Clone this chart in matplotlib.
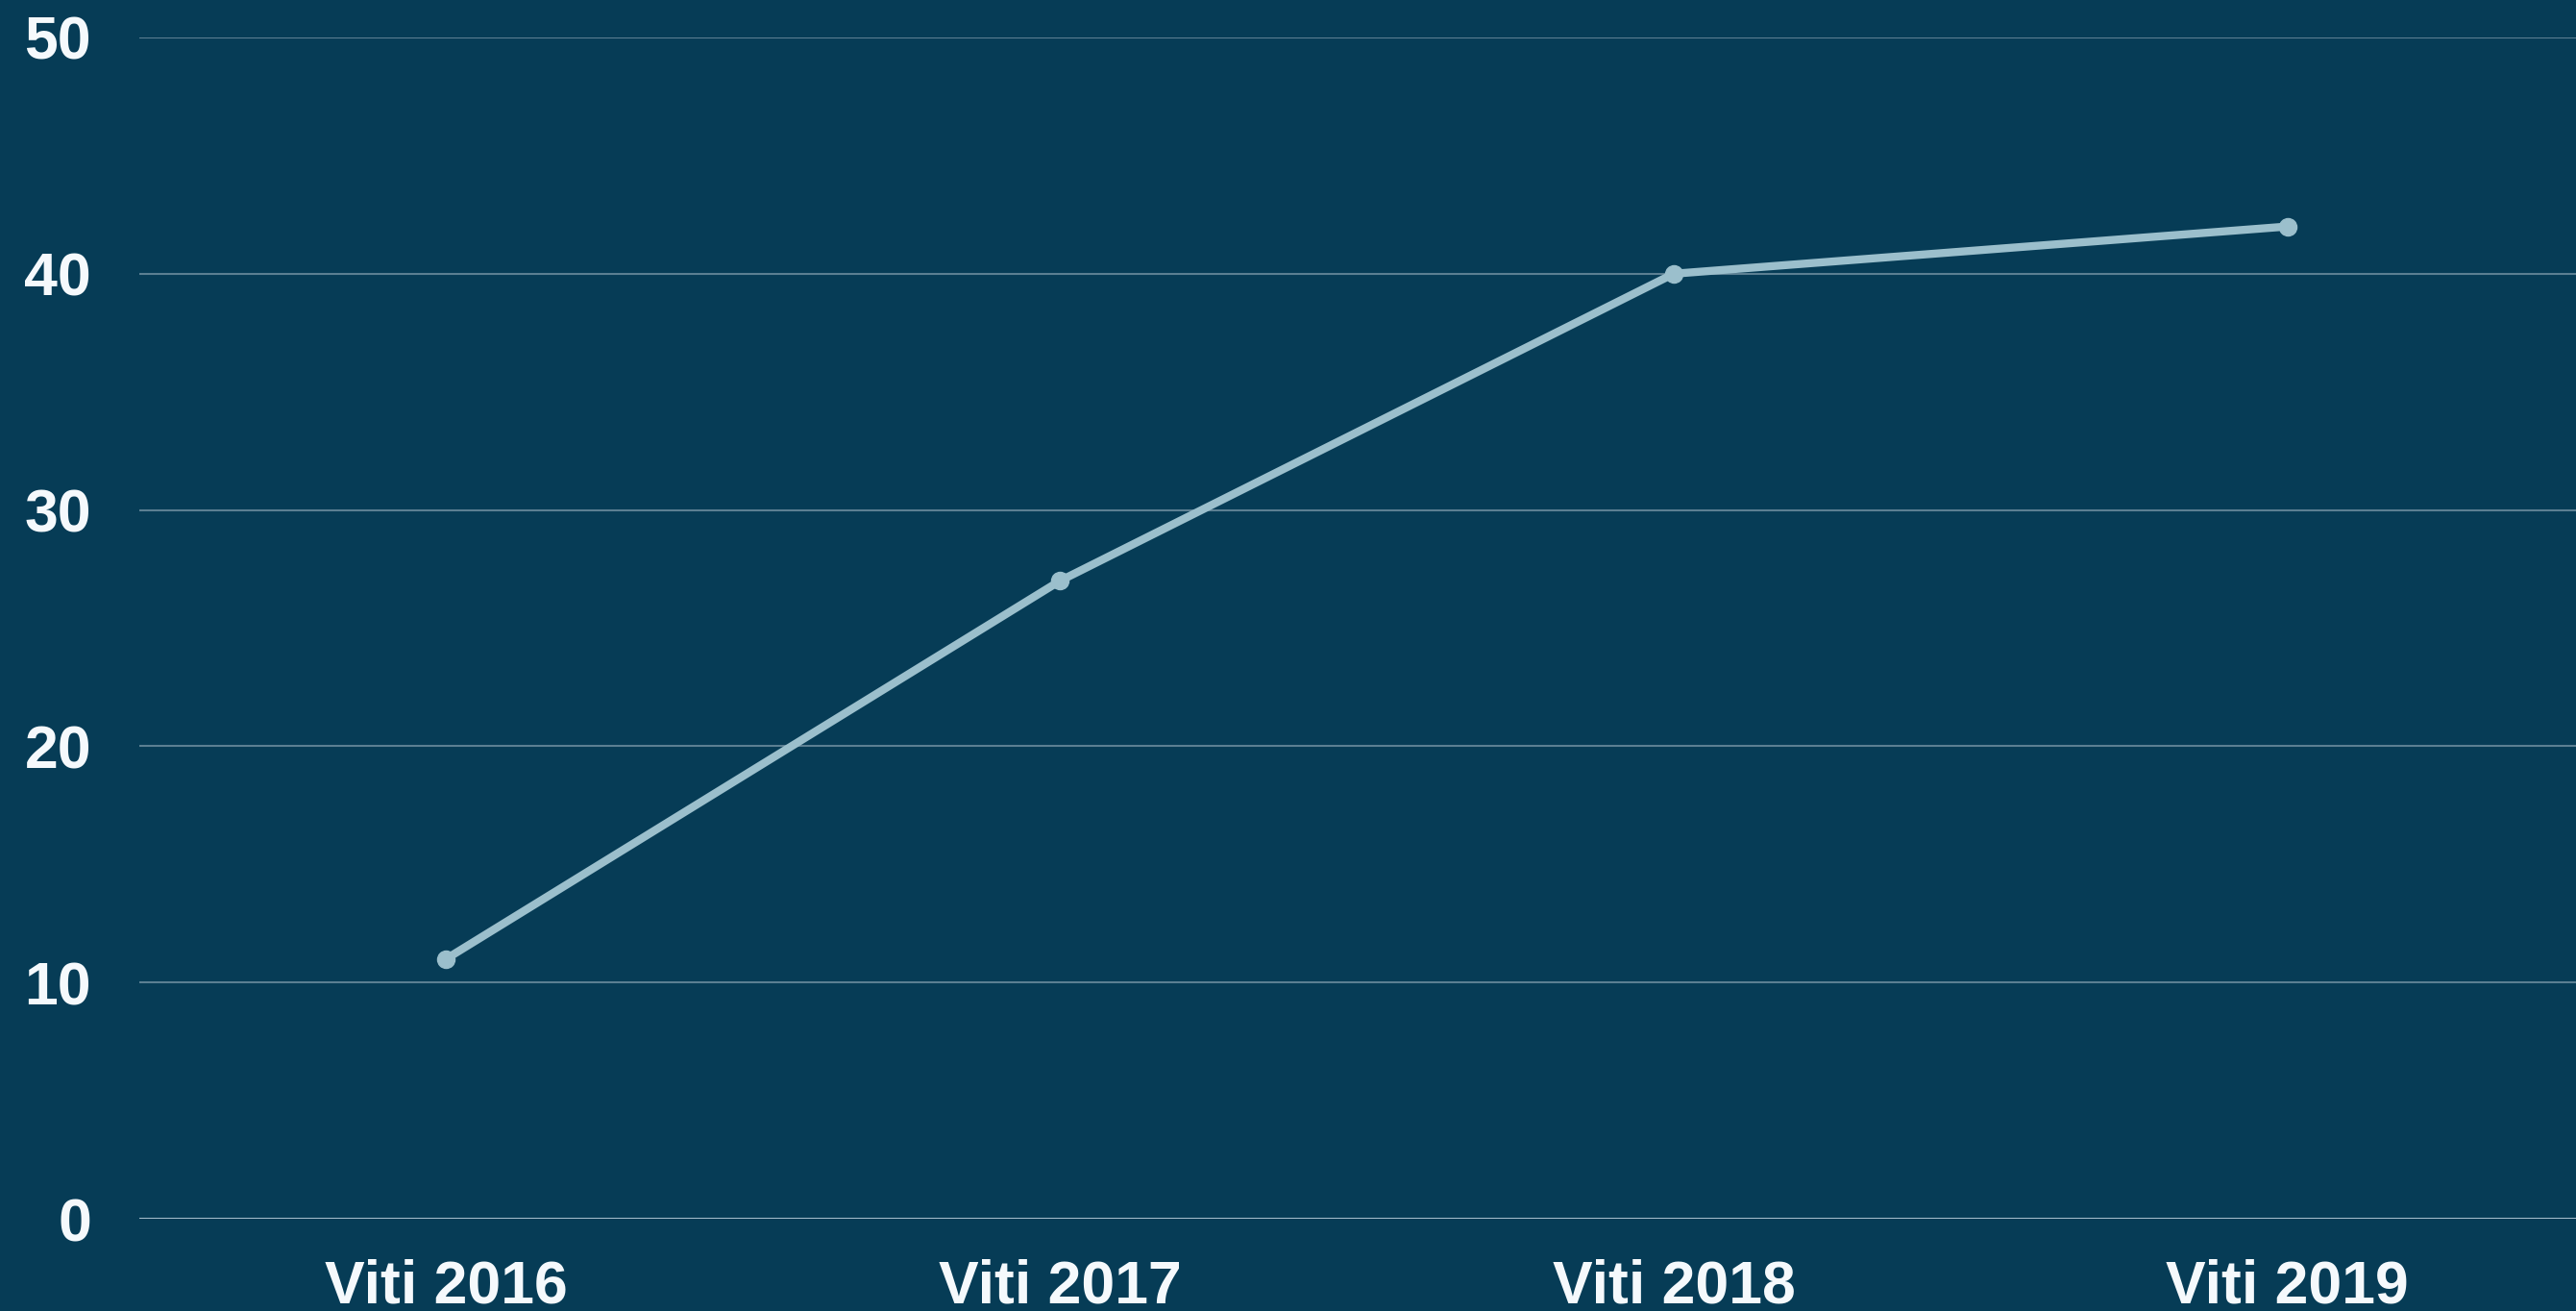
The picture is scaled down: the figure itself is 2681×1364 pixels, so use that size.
import matplotlib
matplotlib.use("Agg")
import matplotlib.pyplot as plt

categories = ["Viti 2016", "Viti 2017", "Viti 2018", "Viti 2019"]
values = [11, 27, 40, 42]
yticks = [0, 10, 20, 30, 40, 50]

bg = "#063c56"
line_c = "#9bbfcc"
grid_c = "#5b7f92"
zero_c = "#a3bccb"
text_c = "#f5f9fc"

plt.rcParams['font.family'] = ['Liberation Sans', 'DejaVu Sans']

fig = plt.figure(figsize=(26.81, 13.64), dpi=100, facecolor=bg)
ax = fig.add_axes([145/2681, 1 - 1268/1364, 1 - 145/2681, (1268 - 39)/1364])
ax.set_facecolor(bg)

x = list(range(len(categories)))
ax.plot(x, values, color=line_c, lw=6, marker='o', markersize=13, zorder=3, solid_capstyle='round')

ax.set_ylim(0, 50)
ax.set_xlim(-0.5, 3.47)
ax.set_yticks(yticks)
ax.set_xticks(x)
ax.set_xticklabels(categories)
for yv in yticks:
    ax.axhline(yv, color=zero_c if yv == 0 else grid_c, lw=1.5 if yv else 2.2, zorder=1)

for s in ax.spines.values():
    s.set_visible(False)
ax.tick_params(axis='both', length=0, colors=text_c, labelsize=45)
ax.tick_params(axis='y', pad=36)
ax.tick_params(axis='x', pad=30)
for lab in ax.get_xticklabels() + ax.get_yticklabels():
    lab.set_fontweight('bold')
    lab.set_color(text_c)

fig.savefig("out.png", dpi=100, facecolor=bg)
